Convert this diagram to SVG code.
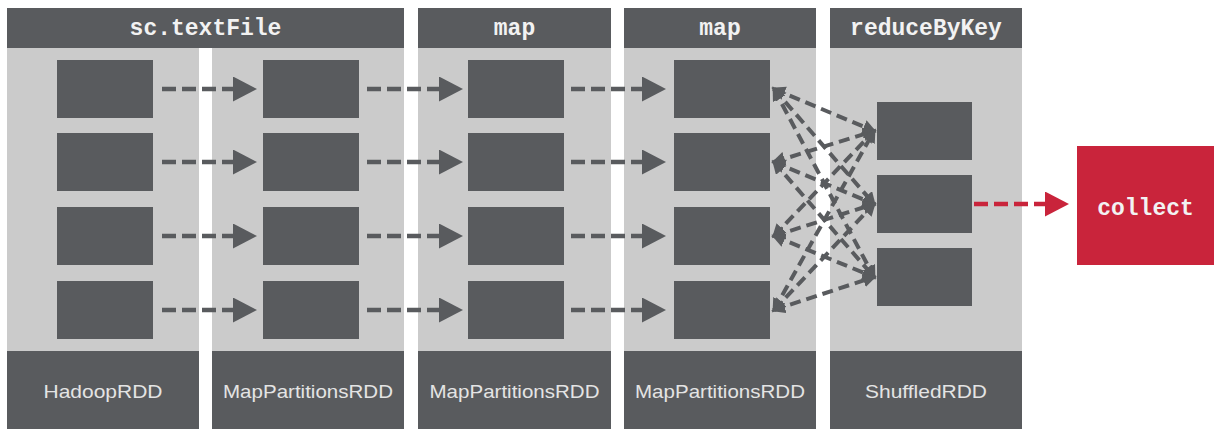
<svg xmlns="http://www.w3.org/2000/svg" width="1215" height="436" viewBox="0 0 1215 436">
  <style>
    .head { fill: #595b5e; }
    .body { fill: #cbcbcb; }
    .part { fill: #595b5e; }
    .foot { fill: #595b5e; }
    .op { font-family: "Liberation Mono", "Courier New", monospace; font-weight: bold; font-size: 23px; fill: #f2f2f2; text-anchor: middle; }
    .rdd { font-family: "Liberation Sans", Arial, sans-serif; font-size: 19px; fill: #e4e4e4; text-anchor: middle; }
    .flow { stroke: #595b5e; stroke-width: 4.5; stroke-dasharray: 14 6; fill: none; }
    .shuffle { stroke: #595b5e; stroke-width: 4; stroke-dasharray: 11 6; fill: none; }
    .out { stroke: #c9243b; stroke-width: 4.5; stroke-dasharray: 14 6; fill: none; }
  </style>
  <defs>
    <marker id="headGrey" markerUnits="userSpaceOnUse" markerWidth="26" markerHeight="26" refX="1" refY="12.5" orient="auto">
      <path d="M0,0 L24,12.5 L0,25 z" fill="#595b5e"/>
    </marker>
    <marker id="headRed" markerUnits="userSpaceOnUse" markerWidth="26" markerHeight="26" refX="1" refY="12.5" orient="auto">
      <path d="M0,0 L24,12.5 L0,25 z" fill="#c9243b"/>
    </marker>
    <marker id="headSmall" markerUnits="userSpaceOnUse" markerWidth="16" markerHeight="16" refX="11" refY="7" orient="auto-start-reverse">
      <path d="M0,0 L14,7 L0,14 z" fill="#595b5e"/>
    </marker>
  </defs>

  <rect width="1215" height="436" fill="#ffffff"/>

  <!-- stage headers -->
  <g id="stage-textFile">
    <rect class="head" x="7" y="8" width="397" height="40"/>
    <text class="op" x="205.5" y="35">sc.textFile</text>
  </g>
  <g id="stage-map1">
    <rect class="head" x="418" y="8" width="193" height="40"/>
    <text class="op" x="514.5" y="35">map</text>
  </g>
  <g id="stage-map2">
    <rect class="head" x="624" y="8" width="192" height="40"/>
    <text class="op" x="720" y="35">map</text>
  </g>
  <g id="stage-reduceByKey">
    <rect class="head" x="830" y="8" width="192" height="40"/>
    <text class="op" x="926" y="35">reduceByKey</text>
  </g>

  <!-- RDD columns -->
  <g id="rdd-hadoop">
    <rect class="body" x="7" y="48" width="192" height="303"/>
    <rect class="part" x="57" y="60" width="96" height="58"/>
    <rect class="part" x="57" y="133" width="96" height="58"/>
    <rect class="part" x="57" y="207" width="96" height="58"/>
    <rect class="part" x="57" y="281" width="96" height="58"/>
    <rect class="foot" x="7" y="351" width="192" height="78"/>
    <text class="rdd" x="103" y="398" textLength="119" lengthAdjust="spacingAndGlyphs">HadoopRDD</text>
  </g>
  <g id="rdd-mapPartitions1">
    <rect class="body" x="212" y="48" width="192" height="303"/>
    <rect class="part" x="263" y="60" width="96" height="58"/>
    <rect class="part" x="263" y="133" width="96" height="58"/>
    <rect class="part" x="263" y="207" width="96" height="58"/>
    <rect class="part" x="263" y="281" width="96" height="58"/>
    <rect class="foot" x="212" y="351" width="192" height="78"/>
    <text class="rdd" x="308" y="398" textLength="170" lengthAdjust="spacingAndGlyphs">MapPartitionsRDD</text>
  </g>
  <g id="rdd-mapPartitions2">
    <rect class="body" x="418" y="48" width="193" height="303"/>
    <rect class="part" x="468" y="60" width="96" height="58"/>
    <rect class="part" x="468" y="133" width="96" height="58"/>
    <rect class="part" x="468" y="207" width="96" height="58"/>
    <rect class="part" x="468" y="281" width="96" height="58"/>
    <rect class="foot" x="418" y="351" width="193" height="78"/>
    <text class="rdd" x="514.5" y="398" textLength="170" lengthAdjust="spacingAndGlyphs">MapPartitionsRDD</text>
  </g>
  <g id="rdd-mapPartitions3">
    <rect class="body" x="624" y="48" width="192" height="303"/>
    <rect class="part" x="674" y="60" width="96" height="58"/>
    <rect class="part" x="674" y="133" width="96" height="58"/>
    <rect class="part" x="674" y="207" width="96" height="58"/>
    <rect class="part" x="674" y="281" width="96" height="58"/>
    <rect class="foot" x="624" y="351" width="192" height="78"/>
    <text class="rdd" x="720" y="398" textLength="170" lengthAdjust="spacingAndGlyphs">MapPartitionsRDD</text>
  </g>
  <g id="rdd-shuffled">
    <rect class="body" x="830" y="48" width="192" height="303"/>
    <rect class="part" x="877" y="102" width="95" height="58"/>
    <rect class="part" x="877" y="175" width="95" height="58"/>
    <rect class="part" x="877" y="248" width="95" height="58"/>
    <rect class="foot" x="830" y="351" width="192" height="78"/>
    <text class="rdd" x="926" y="398" textLength="122" lengthAdjust="spacingAndGlyphs">ShuffledRDD</text>
  </g>

  <!-- action -->
  <g id="action-collect">
    <rect x="1077" y="146" width="137" height="119" fill="#c9243b"/>
    <text class="op" x="1145.5" y="215">collect</text>
  </g>

  <!-- connectors -->
  <g id="connectors">
    <!-- narrow dependencies -->
    <line class="flow" x1="162" y1="89" x2="234" y2="89" marker-end="url(#headGrey)"/>
    <line class="flow" x1="162" y1="162" x2="234" y2="162" marker-end="url(#headGrey)"/>
    <line class="flow" x1="162" y1="236" x2="234" y2="236" marker-end="url(#headGrey)"/>
    <line class="flow" x1="162" y1="310" x2="234" y2="310" marker-end="url(#headGrey)"/>

    <line class="flow" x1="367" y1="89" x2="440" y2="89" marker-end="url(#headGrey)"/>
    <line class="flow" x1="367" y1="162" x2="440" y2="162" marker-end="url(#headGrey)"/>
    <line class="flow" x1="367" y1="236" x2="440" y2="236" marker-end="url(#headGrey)"/>
    <line class="flow" x1="367" y1="310" x2="440" y2="310" marker-end="url(#headGrey)"/>

    <line class="flow" x1="571" y1="89" x2="643" y2="89" marker-end="url(#headGrey)"/>
    <line class="flow" x1="571" y1="162" x2="643" y2="162" marker-end="url(#headGrey)"/>
    <line class="flow" x1="571" y1="236" x2="643" y2="236" marker-end="url(#headGrey)"/>
    <line class="flow" x1="571" y1="310" x2="643" y2="310" marker-end="url(#headGrey)"/>

    <!-- shuffle dependencies -->
    <line class="shuffle" x1="774" y1="89" x2="874" y2="131" marker-start="url(#headSmall)" marker-end="url(#headSmall)"/>
    <line class="shuffle" x1="774" y1="89" x2="874" y2="204" marker-start="url(#headSmall)" marker-end="url(#headSmall)"/>
    <line class="shuffle" x1="774" y1="89" x2="874" y2="277" marker-start="url(#headSmall)" marker-end="url(#headSmall)"/>
    <line class="shuffle" x1="774" y1="162" x2="874" y2="131" marker-start="url(#headSmall)" marker-end="url(#headSmall)"/>
    <line class="shuffle" x1="774" y1="162" x2="874" y2="204" marker-start="url(#headSmall)" marker-end="url(#headSmall)"/>
    <line class="shuffle" x1="774" y1="162" x2="874" y2="277" marker-start="url(#headSmall)" marker-end="url(#headSmall)"/>
    <line class="shuffle" x1="774" y1="236" x2="874" y2="131" marker-start="url(#headSmall)" marker-end="url(#headSmall)"/>
    <line class="shuffle" x1="774" y1="236" x2="874" y2="204" marker-start="url(#headSmall)" marker-end="url(#headSmall)"/>
    <line class="shuffle" x1="774" y1="236" x2="874" y2="277" marker-start="url(#headSmall)" marker-end="url(#headSmall)"/>
    <line class="shuffle" x1="774" y1="310" x2="874" y2="131" marker-start="url(#headSmall)" marker-end="url(#headSmall)"/>
    <line class="shuffle" x1="774" y1="310" x2="874" y2="204" marker-start="url(#headSmall)" marker-end="url(#headSmall)"/>
    <line class="shuffle" x1="774" y1="310" x2="874" y2="277" marker-start="url(#headSmall)" marker-end="url(#headSmall)"/>

    <!-- result to driver -->
    <line class="out" x1="974" y1="204" x2="1046" y2="204" marker-end="url(#headRed)"/>
  </g>
</svg>
